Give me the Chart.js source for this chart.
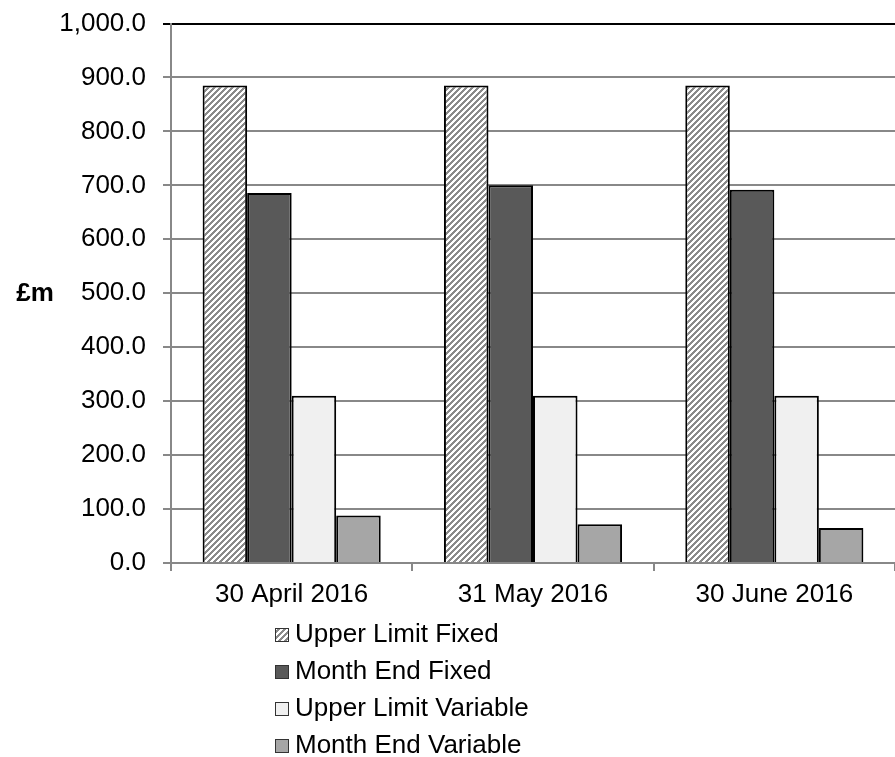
<!DOCTYPE html>
<html>
<head>
<meta charset="utf-8">
<script src="https://cdn.jsdelivr.net/npm/chart.js@4/dist/chart.umd.min.js"></script>
<style>
  html, body { margin: 0; padding: 0; background: #fff; }
  #wrap { width: 895px; height: 757px; }
</style>
</head>
<body>
<div id="wrap"><canvas id="c" width="895" height="757"></canvas></div>
<script>
// Debt position at each month end (£m)
const categories = ['30 April 2016', '31 May 2016', '30 June 2016'];
const upperLimitFixed = [885, 885, 885];
const monthEndFixed = [686, 700, 692];
const upperLimitVariable = [310, 310, 310];
const monthEndVariable = [88, 72, 65];
const seriesNames = ['Upper Limit Fixed', 'Month End Fixed', 'Upper Limit Variable', 'Month End Variable'];
const yAxisTitle = '£m';

const FONT = '"Liberation Sans", Arial, Helvetica, sans-serif';
const canvas = document.getElementById('c');
const ctx = canvas.getContext('2d');

// Upward diagonal hatch used for the fixed upper limit
function makeHatch() {
  const n = 6;
  const tile = document.createElement('canvas');
  tile.width = n; tile.height = n;
  const g = tile.getContext('2d');
  const img = g.createImageData(n, n);
  for (let y = 0; y < n; y++) {
    for (let x = 0; x < n; x++) {
      const i = (y * n + x) * 4;
      const v = ((x + y) % n) < 3 ? 0x8a : 0xff;
      img.data[i] = img.data[i + 1] = img.data[i + 2] = v;
      img.data[i + 3] = 255;
    }
  }
  g.putImageData(img, 0, 0);
  return ctx.createPattern(tile, 'repeat');
}

const fills = [makeHatch(), '#595959', '#f0f0f0', '#a6a6a6'];
const seriesData = [upperLimitFixed, monthEndFixed, upperLimitVariable, monthEndVariable];

Chart.defaults.font.family = FONT;
Chart.defaults.font.size = 26;
Chart.defaults.color = '#000';

// Vertical legend under the axis plus the horizontal unit label
const extras = {
  id: 'extras',
  afterDraw(chart) {
    const c = chart.ctx;
    c.save();
    c.font = '26px ' + FONT;
    c.textBaseline = 'middle';
    c.textAlign = 'left';
    chart.data.datasets.forEach((ds, i) => {
      const cy = 635 + i * 37;
      c.fillStyle = ds.backgroundColor;
      c.fillRect(275, cy - 7, 14, 14);
      c.strokeStyle = '#333';
      c.lineWidth = 1;
      c.strokeRect(275.5, cy - 6.5, 13, 13);
      c.fillStyle = '#000';
      c.fillText(ds.label, 295, cy);
    });
    c.font = 'bold 26px ' + FONT;
    c.textAlign = 'center';
    c.fillText(yAxisTitle, 35, chart.scales.y.getPixelForValue(500) + 1);
    c.restore();
  }
};

new Chart(ctx, {
  type: 'bar',
  data: {
    labels: categories,
    datasets: seriesNames.map((name, i) => ({
      label: name,
      data: seriesData[i],
      backgroundColor: fills[i],
      borderColor: '#000',
      borderWidth: { top: 2, left: 2, right: 2, bottom: 0 },
      borderSkipped: false,
      categoryPercentage: 0.738,
      barPercentage: 1
    }))
  },
  options: {
    responsive: false,
    animation: false,
    devicePixelRatio: 1,
    layout: { padding: { top: 23, right: 0, bottom: 0, left: 0 } },
    plugins: { legend: { display: false }, tooltip: { enabled: false } },
    scales: {
      x: {
        grid: { offset: true, drawOnChartArea: false, color: '#888', lineWidth: 2, tickLength: 8 },
        border: { color: '#888', width: 2, z: 1 },
        ticks: { padding: 8, maxRotation: 0, autoSkip: false },
        afterFit(s) { s.height = 194; }
      },
      y: {
        min: 0,
        max: 1000,
        ticks: {
          stepSize: 100,
          padding: 17,
          font: { size: 26, lineHeight: 0.5 },
          callback: v => v.toLocaleString('en-US', { minimumFractionDigits: 1, maximumFractionDigits: 1 })
        },
        grid: {
          color: c => (c.tick && c.tick.value === 1000 ? '#000' : '#888'),
          lineWidth: 2,
          tickLength: 8
        },
        border: { color: '#888', width: 2 },
        afterFit(s) { s.width = 171; }
      }
    }
  },
  plugins: [extras]
});
</script>
</body>
</html>
